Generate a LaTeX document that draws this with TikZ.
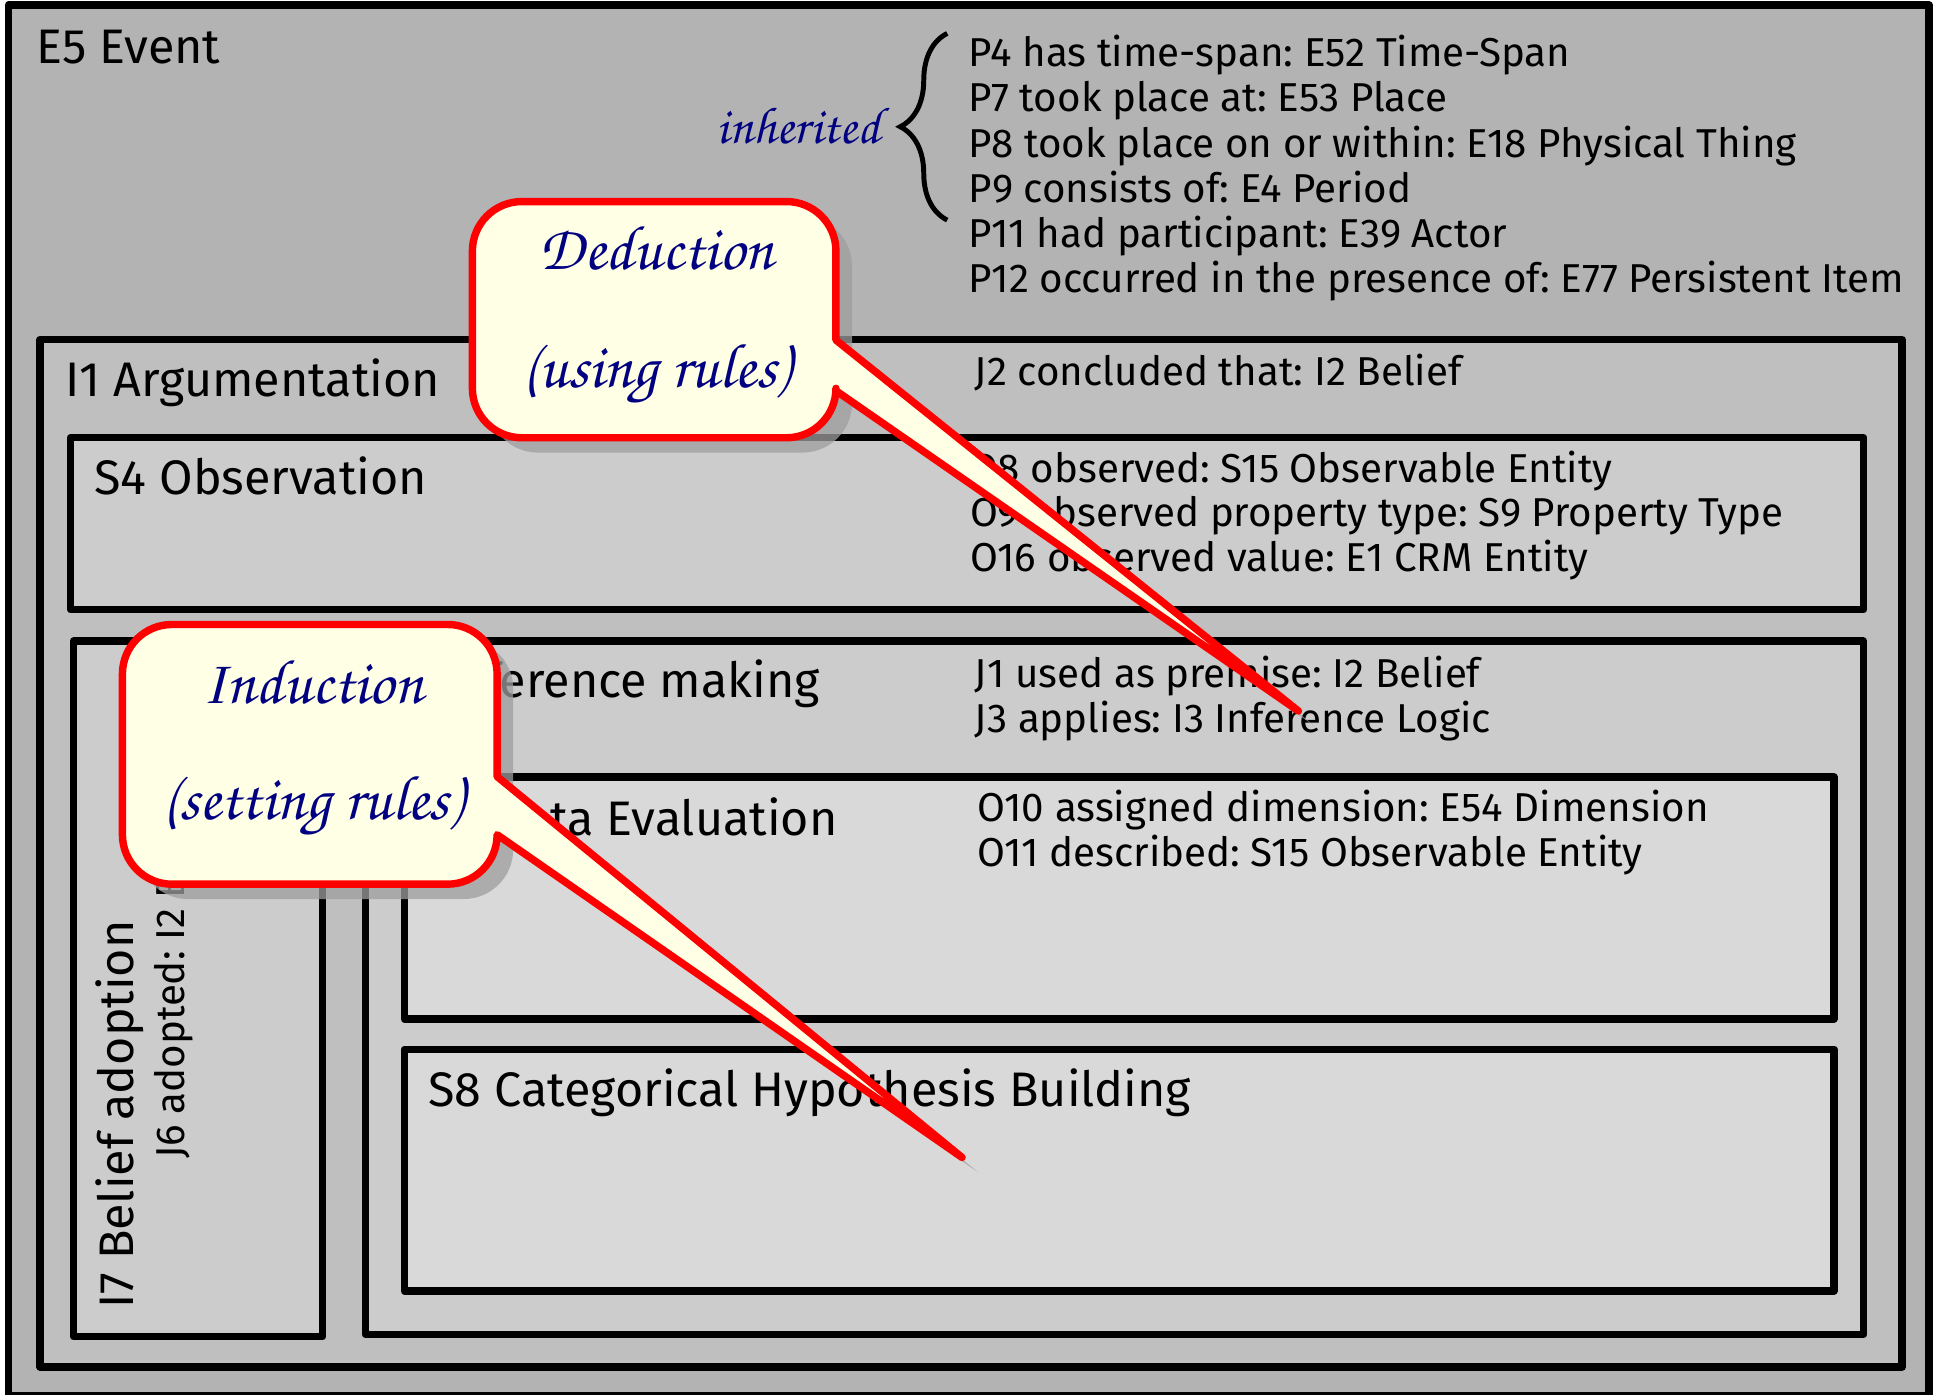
\documentclass[tikz,border=0pt]{standalone}
\usepackage{fontspec}
\setmainfont{Fira Sans}
\newfontfamily\handfont{texgyrechorus-mediumitalic.otf}
\usetikzlibrary{decorations.pathreplacing}
\definecolor{bgE}{HTML}{B3B3B3}
\definecolor{bgI}{HTML}{BFBFBF}
\definecolor{bgS}{HTML}{CCCCCC}
\definecolor{bgD}{HTML}{D9D9D9}
\definecolor{cream}{HTML}{FFFFE6}
\definecolor{handblue}{HTML}{000080}
\frenchspacing
% rounded callout path: L T R B r p1y p2y tipx tipy
\newcommand{\mycallout}[9]{%
  (#1+#5,#2) -- (#3-#5,#2)
  .. controls (#3-0.4477*#5,#2) and (#3,#2+0.4477*#5) .. (#3,#2+#5)
  -- (#3,#6) -- (#8,#9) -- (#3,#7) -- (#3,#4-#5)
  .. controls (#3,#4-0.4477*#5) and (#3-0.4477*#5,#4) .. (#3-#5,#4)
  -- (#1+#5,#4)
  .. controls (#1+0.4477*#5,#4) and (#1,#4-0.4477*#5) .. (#1,#4-#5)
  -- (#1,#2+#5)
  .. controls (#1,#2+0.4477*#5) and (#1+0.4477*#5,#2) .. (#1+#5,#2) -- cycle}
\begin{document}
\begin{tikzpicture}[x=0.5pt,y=-0.5pt,
  box/.style={draw=black,line width=3pt,line join=round},
  title/.style={anchor=base west,inner sep=0pt,font=\fontsize{19.6}{21}\selectfont},
  prop/.style={anchor=base west,inner sep=0pt,font=\fontsize{16.3}{18}\selectfont},
  htext/.style={anchor=base,inner sep=0pt,text=handblue,font=\handfont\fontsize{25.5}{28}\selectfont},
  callout/.style={draw=red,line width=3pt,fill=cream,line join=round},
  cshadow/.style={fill=black!38,opacity=0.75}]
\useasboundingbox (0,0) rectangle (1568,1127.3);
\clip (0,0) rectangle (1568,1127.3);
% E5 Event
\draw[box,fill=bgE] (7,4) rectangle (1560,1129);
\node[title] (e5) at (29,51) {E5 Event};
\node[anchor=base east,inner sep=0pt,text=handblue,font=\handfont\fontsize{21}{23}\selectfont] (inh) at (712,116) {inherited};
\coordinate (braceb) at (766,178);
\coordinate (bracet) at (766,27);
\draw[decorate,decoration={brace,amplitude=19pt},line width=2pt] (braceb) -- (bracet);
\node[prop] (p4) at (783,54) {P4 has time-span: E52 Time-Span};
\node[prop] (p7) at (783,90.5) {P7 took place at: E53 Place};
\node[prop] (p8) at (783,127) {P8 took place on or within: E18 Physical Thing};
\node[prop] (p9) at (783,163.5) {P9 consists of: E4 Period};
\node[prop] (p11) at (783,200) {P11 had participant: E39 Actor};
\node[prop] (p12) at (783,236.5) {P12 occurred in the presence of: E77 Persistent Item};
% I1 Argumentation
\draw[box,fill=bgI] (32.5,274.5) rectangle (1538,1105.5);
\node[title] (i1) at (52.5,321) {I1 Argumentation};
\node[prop] (j2) at (788,312) {J2 concluded that: I2 Belief};
% S4 Observation
\draw[box,fill=bgS] (57,354) rectangle (1507,493);
\node[title] (s4) at (76,400) {S4 Observation};
\node[prop] (o8) at (784,390) {O8 observed: S15 Observable Entity};
\node[prop] (o9) at (784,426) {O9 observed property type: S9 Property Type};
\node[prop] (o16) at (784,462.4) {O16 observed value: E1 CRM Entity};
% I7 Belief adoption
\draw[box,fill=bgS] (59.5,518.5) rectangle (261,1081);
\node[title,rotate=90] (i7) at (107.7,1058.6) {I7 Belief adoption};
\node[prop,rotate=90] (j6) at (149.5,937.6) {J6 adopted: I2 Belief};
% I5 Inference making
\draw[box,fill=bgS] (295.5,518.5) rectangle (1507,1079);
\node[title] (i5) at (315,564) {I5 Inference making};
\node[prop] (j1) at (788,556) {J1 used as premise: I2 Belief};
\node[prop] (j3) at (788,592.4) {J3 applies: I3 Inference Logic};
% S6 Data Evaluation
\draw[box,fill=bgD] (327,628.5) rectangle (1483,824);
\node[title] (s6) at (346,675.5) {S6 Data Evaluation};
\node[prop] (o10) at (789.7,664.5) {O10 assigned dimension: E54 Dimension};
\node[prop] (o11) at (789.7,700.6) {O11 described: S15 Observable Entity};
% S8 Categorical Hypothesis Building
\draw[box,fill=bgD] (327,848.5) rectangle (1483,1044);
\node[title] (s8) at (346,894.5) {S8 Categorical Hypothesis Building};
% callouts
\coordinate (dedtip) at (1050,575);
\coordinate (indtip) at (778,936);
\begin{scope}[shift={(13,12)}]
  \fill[cshadow] \mycallout{382}{163}{676}{354}{40}{275}{316}{1050}{575};
  \fill[cshadow] \mycallout{99}{505}{402}{715}{40}{628}{675}{778}{936};
\end{scope}
\draw[callout] \mycallout{382}{163}{676}{354}{40}{275}{316}{1050}{575};
\draw[callout] \mycallout{99}{505}{402}{715}{40}{628}{675}{778}{936};
\node[htext] (ded) at (531,218) {Deduction};
\node[htext] (dedr) at (531,313) {(using rules)};
\node[htext] (ind) at (253,569) {Induction};
\node[htext] (indr) at (253,663) {(setting rules)};
\end{tikzpicture}
\end{document}
